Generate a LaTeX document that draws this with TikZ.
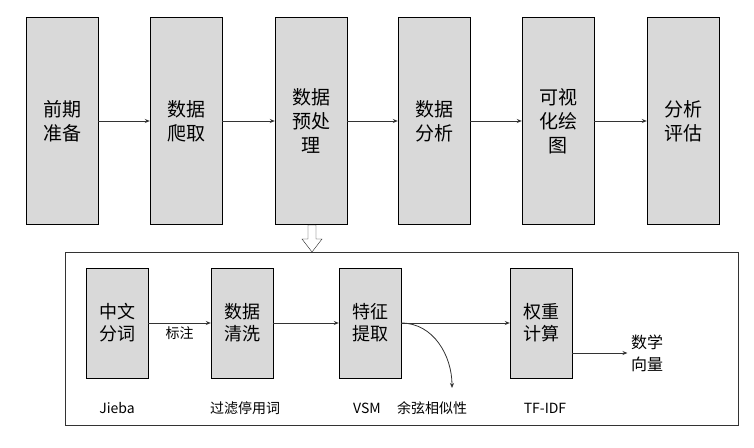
\documentclass[tikz,border=0pt]{standalone}
\usepackage{fontspec}
\setmainfont{Noto Sans CJK SC}
\usetikzlibrary{arrows.meta}
\begin{document}
\begin{tikzpicture}
[x=1pt,y=-1pt,
stage/.style={rectangle,draw=black,fill=black!15,minimum width=72pt,minimum height=207pt,font=\fontsize{19}{24}\selectfont,align=center},
sub/.style={rectangle,draw=black,fill=black!15,minimum width=62pt,minimum height=110pt,font=\fontsize{18}{22}\selectfont,align=center},
note/.style={font=\fontsize{14}{16}\selectfont},
flow/.style={-{Stealth[length=5pt,width=4pt]},draw=black!80,thick}]

\useasboundingbox (0,0) rectangle (754,447);
\node at (62,121)  [stage] (prep)    {前期\\准备};
\node at (186,121) [stage] (crawl)   {数据\\爬取};
\node at (311,121) [stage] (pre)     {数据\\预处\\理};
\node at (434,121) [stage] (anal)    {数据\\分析};
\node at (558,121) [stage] (vis)     {可视\\化绘\\图};
\node at (683,121) [stage] (eval)    {分析\\评估};
\foreach \a/\b in {prep/crawl,crawl/pre,pre/anal,anal/vis,vis/eval}
  \draw [flow] (\a.east) -- (\b.west);

\draw [black!80] (65,252) rectangle (738,425);
\coordinate (hol) at (312,252);
\draw [black!85,fill=white] (308,225) -- (316,225) -- (316,239) -- (322,239) -- (hol)
  -- (302,239) -- (308,239) -- cycle;

\node at (117,323) [sub] (seg)   {中文\\分词};
\node at (242,323) [sub] (clean) {数据\\清洗};
\node at (370,323) [sub] (feat)  {特征\\提取};
\node at (541,323) [sub] (wgt)   {权重\\计算};
\node at (647,353) [note,font=\fontsize{16}{22}\selectfont,align=center] (vec) {数学\\向量};
\coordinate (cosend) at (452,388);
\draw [flow] (seg) -- (clean) node [midway,below,note] {标注};
\draw [flow] (clean) -- (feat);
\draw [flow] (feat) -- (wgt);
\draw [flow] (wgt.east |- vec) -- (vec.west);
\draw [flow] (feat.east) to [out=0,in=90] (cosend);

\node at (117,408) [note] (jieba) {Jieba};
\node at (245,408) [note] (stop)  {过滤停用词};
\node at (367,408) [note] (vsm)   {VSM};
\node at (432,408) [note] (cos)   {余弦相似性};
\node at (545,408) [note] (tfidf) {TF-IDF};
\end{tikzpicture}
\end{document}
